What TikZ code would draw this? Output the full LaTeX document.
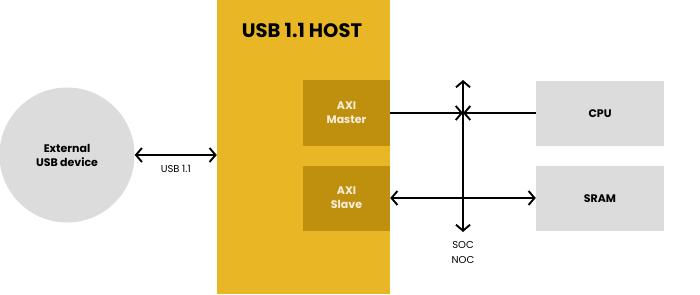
\documentclass[tikz,border=0pt]{standalone}
\usepackage{fontspec}
\setmainfont{Poppins}
\usetikzlibrary{arrows.meta}
\definecolor{hostyellow}{HTML}{E9B626}
\definecolor{axibrown}{HTML}{BF900E}
\definecolor{boxgray}{HTML}{DCDCDC}
\definecolor{axitext}{HTML}{F7EEDB}

\begin{document}
\begin{tikzpicture}[
    x=1pt, y=-1pt,
    every node/.style={font=\fontsize{10}{12}\selectfont},
    blk/.style={rectangle, inner sep=0pt, align=center, font=\fontsize{11}{14}\selectfont\bfseries},
    axi/.style={blk, fill=axibrown, text=axitext, minimum width=87pt, minimum height=65pt},
    unit/.style={blk, fill=boxgray, minimum width=128pt, minimum height=65pt},
    arr/.style={-{Straight Barb[length=6pt,width=14pt]}, line width=1.9pt},
    dbl/.style={{Straight Barb[length=6pt,width=14pt]}-{Straight Barb[length=6pt,width=14pt]}, line width=1.9pt},
]
\useasboundingbox (0,0) rectangle (700,294);
% === Left: external device ===
\node[blk, circle, fill=boxgray, minimum size=135pt] (ext) at (67,155) {External\\USB device};
% === Middle: host block ===
\node[rectangle, fill=hostyellow, minimum width=173pt, minimum height=294pt, inner sep=0pt] (host) at (303.5,147) {};
\node[font=\fontsize{19.5}{22}\selectfont\bfseries] (title) at (302,30) {USB 1.1 HOST};
\node[axi] (master) at (346.5,113) {AXI\\Master};
\node[axi] (slave) at (346.5,198) {AXI\\Slave};
% === Right: SoC side ===
\node[unit] (cpu) at (600,113.5) {CPU};
\node[unit] (sram) at (600,198.5) {SRAM};
% Bus line
\coordinate (bustop) at (463,80);
\coordinate (busbot) at (463,232);
\coordinate (jm) at (bustop |- master.east);
\node[align=center, anchor=north, font=\fontsize{10}{15}\selectfont] (noc) at (463,238) {SOC\\NOC};
% Connections
\draw[dbl] (ext.east) -- (host.west |- ext.east) node[midway, below=6pt, font=\fontsize{10}{12}\selectfont] (usb) {USB 1.1};
\draw[dbl] (bustop) -- (busbot);
\draw[arr] (master.east) -- (jm);
\draw[arr] (cpu.west |- jm) -- (jm);
\draw[dbl] (slave.east) -- (sram.west |- slave.east);
\end{tikzpicture}
\end{document}
